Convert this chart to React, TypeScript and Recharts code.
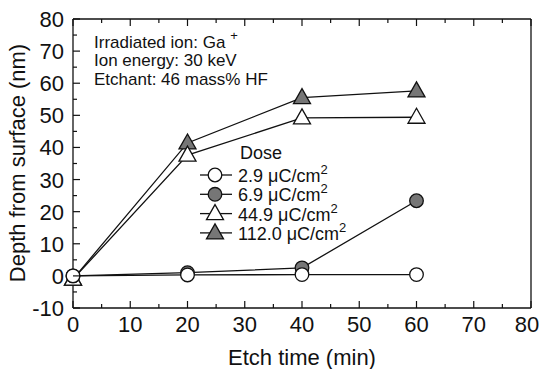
import React from "react";
import { LineChart, Line, XAxis, YAxis } from "recharts";

const etchTimes = [0, 20, 40, 60];
const dose29 = [0, 0.3, 0.4, 0.4];
const dose69 = [0, 1, 2.5, 23.4];
const dose449 = [-1, 37.6, 49.2, 49.4];
const dose1120 = [-1, 41.4, 55.5, 57.6];

const xTicks = [0, 5, 10, 15, 20, 25, 30, 35, 40, 45, 50, 55, 60, 65, 70, 75, 80];
const yTicks = [-10, -5, 0, 5, 10, 15, 20, 25, 30, 35, 40, 45, 50, 55, 60, 65, 70, 75, 80];

const data = etchTimes.map((t, i) => ({
  t,
  d29: dose29[i],
  d69: dose69[i],
  d449: dose449[i],
  d1120: dose1120[i],
}));

const FONT = "'Liberation Sans', Arial, Helvetica, sans-serif";
const INK = "#111";
const SHADE = "#767676";

const MAJOR = 7;
const MINOR = 4;

type Side = "bottom" | "top" | "left" | "right";

const makeTick = (side: Side, showLabel: boolean) => (props: any) => {
  const { x, y, payload } = props;
  const v = payload.value as number;
  const major = v % 10 === 0;
  const len = major ? MAJOR : MINOR;
  let line;
  if (side === "bottom") line = <line x1={x} y1={y} x2={x} y2={y - len} />;
  else if (side === "top") line = <line x1={x} y1={y} x2={x} y2={y + len} />;
  else if (side === "left") line = <line x1={x} y1={y} x2={x + len} y2={y} />;
  else line = <line x1={x} y1={y} x2={x - len} y2={y} />;
  // last x label sits against the page edge
  const nudge = side === "bottom" && v === 80 ? -4 : 0;
  return (
    <g stroke={INK} strokeWidth={1.2}>
      {line}
      {showLabel && major && side === "bottom" && (
        <text x={x + nudge} y={y + 24} textAnchor="middle" fontSize={22} fill={INK} stroke="none" fontFamily={FONT}>
          {v}
        </text>
      )}
      {showLabel && major && side === "left" && (
        <text x={x - 9} y={y + 8} textAnchor="end" fontSize={22} fill={INK} stroke="none" fontFamily={FONT}>
          {v}
        </text>
      )}
    </g>
  );
};

const circleDot = (fill: string) => (p: any) => (
  <circle key={p.index} cx={p.cx} cy={p.cy} r={6.8} fill={fill} stroke={INK} strokeWidth={1.3} />
);

const triPoints = (cx: number, cy: number) => {
  const w = 8.5;
  return `${cx},${cy - 9} ${cx - w},${cy + 6} ${cx + w},${cy + 6}`;
};

const triangleDot = (fill: string) => (p: any) => (
  <polygon key={p.index} points={triPoints(p.cx, p.cy)} fill={fill} stroke={INK} strokeWidth={1.3} />
);

const legendRows = [
  { label: "2.9", kind: "circle", fill: "#fff" },
  { label: "6.9", kind: "circle", fill: SHADE },
  { label: "44.9", kind: "triangle", fill: "#fff" },
  { label: "112.0", kind: "triangle", fill: SHADE },
];

export default function App() {
  return (
    <div style={{ width: 541, height: 369, background: "#fff" }}>
      <style>{"body{margin:0;background:#fff}"}</style>
      <LineChart width={541} height={369} data={data} margin={{ top: 18, right: 0, bottom: 0, left: 0 }}>
        <XAxis
          xAxisId="b"
          dataKey="t"
          type="number"
          domain={[0, 80]}
          ticks={xTicks}
          interval={0}
          orientation="bottom"
          height={61}
          tickSize={0}
          tickMargin={0}
          tickLine={false}
          tick={makeTick("bottom", true)}
          axisLine={{ stroke: INK, strokeWidth: 1.3 }}
        />
        <XAxis
          xAxisId="tp"
          dataKey="t"
          type="number"
          domain={[0, 80]}
          ticks={xTicks}
          interval={0}
          orientation="top"
          height={1}
          tickSize={0}
          tickMargin={0}
          tickLine={false}
          tick={makeTick("top", false)}
          axisLine={{ stroke: INK, strokeWidth: 1.3 }}
        />
        <YAxis
          yAxisId="l"
          type="number"
          domain={[-10, 80]}
          ticks={yTicks}
          interval={0}
          orientation="left"
          width={73}
          tickSize={0}
          tickMargin={0}
          tickLine={false}
          tick={makeTick("left", true)}
          axisLine={{ stroke: INK, strokeWidth: 1.3 }}
        />
        <YAxis
          yAxisId="r"
          type="number"
          domain={[-10, 80]}
          ticks={yTicks}
          interval={0}
          orientation="right"
          width={10}
          tickSize={0}
          tickMargin={0}
          tickLine={false}
          tick={makeTick("right", false)}
          axisLine={{ stroke: INK, strokeWidth: 1.3 }}
        />
        <Line xAxisId="b" yAxisId="l" dataKey="d1120" stroke={INK} strokeWidth={1.3} dot={triangleDot(SHADE)} isAnimationActive={false} />
        <Line xAxisId="b" yAxisId="l" dataKey="d449" stroke={INK} strokeWidth={1.3} dot={triangleDot("#fff")} isAnimationActive={false} />
        <Line xAxisId="b" yAxisId="l" dataKey="d69" stroke={INK} strokeWidth={1.3} dot={circleDot(SHADE)} isAnimationActive={false} />
        <Line xAxisId="b" yAxisId="l" dataKey="d29" stroke={INK} strokeWidth={1.3} dot={circleDot("#fff")} isAnimationActive={false} />

        {/* axis titles */}
        <text x={302} y={365} textAnchor="middle" fontSize={22} fill={INK} fontFamily={FONT}>
          Etch time (min)
        </text>
        <text
          x={0}
          y={0}
          transform="translate(25,163) rotate(-90)"
          textAnchor="middle"
          fontSize={22}
          fill={INK}
          fontFamily={FONT}
        >
          Depth from surface (nm)
        </text>

        {/* conditions */}
        <g fontFamily={FONT} fontSize={17} fill={INK}>
          <text x={94} y={48}>
            Irradiated ion: Ga
            <tspan dx={5} dy={-8} fontSize={13}>+</tspan>
          </text>
          <text x={94} y={66}>Ion energy: 30 keV</text>
          <text x={94} y={85}>Etchant: 46 mass% HF</text>
        </g>

        {/* dose legend */}
        <g fontFamily={FONT} fontSize={18} fill={INK}>
          <text x={240} y={159}>Dose</text>
          {legendRows.map((r, i) => {
            const cy = 175 + i * 19.3;
            return (
              <g key={r.label}>
                <line x1={200} x2={232} y1={cy} y2={cy} stroke={INK} strokeWidth={1.3} />
                {r.kind === "circle" ? (
                  <circle cx={215} cy={cy} r={6.8} fill={r.fill} stroke={INK} strokeWidth={1.3} />
                ) : (
                  <polygon points={triPoints(215, cy)} fill={r.fill} stroke={INK} strokeWidth={1.3} />
                )}
                <text x={238} y={cy + 7}>
                  {r.label} μC/cm
                  <tspan dy={-8} fontSize={13}>2</tspan>
                </text>
              </g>
            );
          })}
        </g>
      </LineChart>
    </div>
  );
}
